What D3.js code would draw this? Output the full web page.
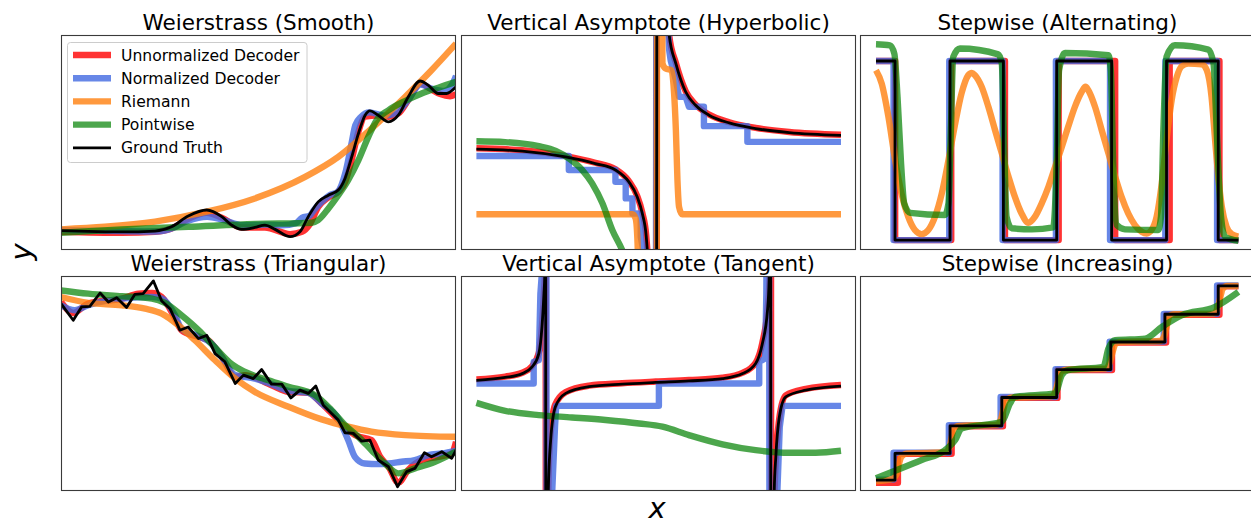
<!DOCTYPE html>
<html>
<head>
<meta charset="utf-8">
<script src="https://cdn.jsdelivr.net/npm/d3@7"></script>
<style>
  body { margin: 0; background: #fff; }
  text { font-family: "DejaVu Sans", sans-serif; fill: #000; }
</style>
</head>
<body>
<script>
// Panel titles (row by row)
var titles = [
  "Weierstrass (Smooth)", "Vertical Asymptote (Hyperbolic)", "Stepwise (Alternating)",
  "Weierstrass (Triangular)", "Vertical Asymptote (Tangent)", "Stepwise (Increasing)"
];

// legend names
var seriesNames = ["Unnormalized Decoder", "Normalized Decoder", "Riemann", "Pointwise", "Ground Truth"];

// ---- Weierstrass (Smooth) : [x, y] (0-100 units)
var smoothTruth = [[0,9.0],[6.9,8.7],[15.4,8.4],[23.8,8.8],[28,10.8],[32.2,15.8],[36.9,18.6],[40.7,15.5],[43.2,11.6],[45.7,9.6],[49.1,10.5],[51.6,11.6],[54.2,9.6],[58,6.2],[60.5,8.5],[62.6,15.5],[65.1,22.4],[67.7,25.5],[70.2,27.9],[71.9,33.3],[73.6,43.3],[75.3,54.2],[77,62.7],[78.2,64.7],[80.3,62.7],[82.9,59.6],[85.4,62.7],[87.9,71.2],[90.9,78.6],[93,76.6],[95.5,72.8],[97.6,72.8],[100,75.9]];
var smoothUnnorm = [[0,8.5],[15.4,8.0],[23.8,8.5],[28,10],[32.2,14.5],[36.9,17.3],[40.7,15],[45.7,10.5],[51.6,10.5],[58,7.4],[61,8.5],[63,12],[65.1,20],[67.7,24.5],[70.2,27],[72,32],[73.6,42],[75.3,55],[77,62],[80,62.5],[83,62],[85.4,63.5],[88,70],[91,77.5],[93.5,75],[96,72.5],[98.5,71.5],[100,72.5]];
var smoothNorm = [[0,9.3],[15,8.8],[24,8.6],[28,10],[32,13.5],[37,15.5],[41,14],[46,11.5],[52,11.8],[56,11.5],[59.5,12.5],[61,15],[63,16],[64,18.5],[66,22.5],[68,25.5],[70,27],[72,36],[73.6,50],[74.5,58],[76,62],[78,64],[82,62.5],[85,64],[88,70],[91,77],[94,75],[97,74],[99,77],[100,81]];
var smoothRiemann = [[0,9.6],[11.1,10.8],[23.8,13.2],[36.9,17.8],[49.1,24],[61.8,34],[70.2,43.3],[78.6,56.5],[87.1,71.2],[93.8,83.6],[100,96]];
var smoothPointwise = [[0,8],[15.4,9.6],[32.2,10.8],[49.1,12.1],[63.5,12.7],[65.1,13.9],[67.7,19.3],[70.2,25.5],[72.7,32.5],[75.3,41.8],[77.8,52.6],[79.9,60.4],[82.9,65],[87.1,69.3],[91.3,72.8],[95.5,75.5],[100,78.2]];

// ---- Vertical Asymptote (Hyperbolic)
var hyperTruth = [[3.9,46.9],[15.5,46],[26.5,43.3],[34,40.2],[39.1,37.2],[42.5,31.7],[44.6,24.8],[45.9,17],[46.9,6.2],[48,-40],[49.3,-300],[49.8,400],[51.4,150],[52.7,100],[54.4,86.7],[56.9,73.5],[59.4,67.3],[62.8,62.7],[67.9,59.1],[74.6,56.5],[83.1,54.6],[96.2,53.3]];
var hyperUnnorm = [[3.9,47.3],[15.5,46.4],[26.5,43.7],[34,40.6],[39.1,37.6],[42.5,32.1],[44.6,25.2],[45.9,17.4],[46.9,6.6],[48,-40],[49.3,-300],[49.8,400],[51.4,150],[52.7,100],[54.4,87],[56.9,73.8],[59.4,67.6],[62.8,63],[67.9,59.4],[74.6,56.8],[83.1,54.9],[96.2,53.6]];
var hyperNorm = [[3.9,43.7],[27.3,43.7],[27.3,37.2],[39.1,37.2],[39.1,31.7],[41.7,31.7],[41.7,24],[43.4,24],[43.4,17],[45.5,17],[45.5,6.2],[46.7,-6],[48.4,-40],[49.2,-300],[49.6,400],[51.2,150],[52.7,93],[53.1,88],[54.4,79],[55.2,71.2],[56.9,71.2],[57.7,66.6],[61.5,66.6],[61.5,57.6],[72.5,57.6],[72.5,50.3],[96.2,50.3]];
var hyperRiemann = [[3.9,16.6],[43.4,16.6],[44.2,14.7],[44.7,3.1],[45,-21.7],[49.3,-300],[49.9,400],[51,86.7],[51.8,84.4],[53.3,83.6],[53.9,74.3],[54.4,55.7],[54.8,32.5],[55.2,20.1],[56,16.6],[96.2,16.6]];
var hyperPointwise = [[3.9,50.6],[11.2,50.2],[19.7,48.3],[24,46.1],[27.3,42.6],[30.7,37.2],[33.2,31],[35.8,21.7],[38.3,9.3],[40.8,0],[43.4,-12.4],[45.9,-29]];

// ---- Stepwise (Alternating): step edges and the level after each edge
var altLevels = [87.9, 4.6, 87.9, 4.6, 87.9, 4.6, 87.9, 4.6, 4.6];
var altTruthEdges = [4.05, 8.86, 22.8, 36.3, 49.8, 63.7, 77.6, 90.7, 95.8];
var altUnnormEdges = [4.05, 8.9, 23.1, 36.7, 50.3, 64.6, 78.4, 91.0, 95.8];
var altNormEdges = [4.05, 8.5, 22.6, 36.1, 49.6, 63.3, 77.3, 90.4, 95.8];
var altRiemann = [[4.05,83.6],[5.5,77.4],[7.2,61.9],[8.9,41.8],[10.5,26.3],[12.2,15.5],[13.9,9.3],[15.6,7.4],[17.3,9.3],[19,15.5],[20.7,26.3],[22.4,41.8],[24.1,58.8],[25.7,72.8],[27.4,81.3],[28.3,82.4],[29.1,81.3],[30.8,75.9],[32.5,66.6],[34.2,55.7],[35.9,44.9],[37.6,34.1],[39.2,24.8],[40.9,17],[42.6,12.7],[44.3,15.5],[46,21.7],[47.7,29.4],[49.4,38.7],[51.1,48],[52.7,57.3],[54.4,66.6],[56.1,73.5],[57.1,75.9],[57.8,74.3],[59.5,66.6],[61.2,55.7],[62.9,44.9],[64.6,34.1],[66.2,24.8],[67.9,17],[69.6,11.6],[71.3,8.5],[72.6,7.7],[73.8,9.3],[75.1,15.5],[76.4,31],[77.6,51.1],[78.9,69.7],[80.2,80.5],[81.4,85.4],[83.1,86.7],[86.5,86.4],[87.8,83.6],[89,71.2],[89.9,51.1],[90.7,34.1],[91.6,20.1],[92.8,10.8],[94.1,7.4],[95.8,6.2]];
var altPointwise = [[4.05,95.7],[7.6,95.2],[8.7,91.3],[9.5,71.2],[10.4,40.2],[11.2,21.7],[12.7,17.3],[21.5,16.3],[22.4,21.7],[23,55.7],[23.6,89.8],[25.3,93.7],[35,91],[35.9,86.7],[36.5,48],[37.1,15.5],[38.4,10.1],[43.5,9.6],[48.9,10.5],[49.8,40.2],[50.4,83.6],[51.9,91.6],[62.9,90.6],[63.5,83.6],[64.1,40.2],[65,11.6],[67.1,9.6],[75.5,9.3],[76.2,15.5],[76.8,55.7],[77.6,89.8],[79.7,95.2],[88.2,93.2],[89.5,86.7],[90.3,55.7],[91.4,15.5],[92.4,6.2],[95.8,4.3]];

// ---- Weierstrass (Triangular)
var triTruth = [[0,87.2],[3.1,79.4],[5.2,85.6],[7.3,85.9],[9.9,92.1],[12,87.9],[14.1,89.9],[16.6,85.3],[18.7,91.5],[20.8,91.8],[23.4,97.7],[25.5,88.4],[27.6,84.8],[30.1,74.8],[32.2,76.3],[34.8,70.9],[36.9,72.4],[39,63.9],[41.5,60.1],[44.1,50],[46.2,53.9],[48.7,52.3],[50.8,56.5],[53.3,49.7],[55.9,49.7],[58.2,43.3],[60.5,46.9],[62.6,45.4],[64.5,48.8],[66.4,39.9],[68.5,36.1],[70.2,33],[71.9,27.1],[74,26.8],[76.1,23.2],[78.2,23.7],[80.3,14.4],[82.9,11.3],[85.2,2],[87.5,9],[89.6,10.5],[92,17.8],[93.8,15.9],[96.4,18.3],[98.9,15.2],[100,19]];
var triUnnorm = [[0,87.9],[3.1,82.8],[6.9,87.2],[15.4,89.5],[19.6,91.8],[23,92.1],[25.5,90.2],[28.9,80.2],[30.5,74.8],[34.8,71.7],[37.3,70.1],[40.7,62.4],[44.1,53.1],[46.6,53.9],[53.3,49.2],[57.6,46.1],[62.6,45.7],[66,40.7],[70.2,33],[74.4,26],[78.6,23.7],[80.8,15.9],[82.9,11.3],[85.4,3.9],[87.9,9.8],[91.3,14.4],[95.5,15.9],[98.9,17.5],[100,22.9]];
var triNorm = [[0,86.4],[3.5,84.1],[6.9,86.4],[15.4,89.5],[23,90.2],[25.5,89.5],[28.9,81.7],[30.5,75.5],[34.8,72],[38.1,68.6],[40.7,62.4],[44.1,53.9],[49.1,52.3],[53.3,49.7],[57.6,46.6],[62.6,45.7],[66,40.7],[70.2,33.7],[72.7,23.7],[74.4,15.9],[76.9,12.8],[80.3,12.5],[82.9,12.8],[86.2,13.6],[89.6,14.4],[93,16.7],[96.4,17.5],[100,18.7]];
var triRiemann = [[0,90.2],[6.9,87.5],[15.4,86.4],[21.3,84.8],[25.5,82.5],[29.7,77.1],[33.9,70.1],[39,60.8],[44.1,52.3],[49.1,46.1],[57.6,39.2],[66,33.3],[72.7,29.9],[78.6,27.6],[87.1,26],[100,25.2]];
var triPointwise = [[0,93.3],[6.9,91.8],[15.4,90.6],[23,89.5],[26.3,87.5],[30.5,81.7],[34.8,74.8],[39,66.7],[43.2,59],[46.6,55.4],[52.5,51.5],[57.6,48.5],[64.3,44.6],[68.5,37.6],[71.9,30.7],[75.3,25.2],[78.6,19],[82,12.8],[85.4,8.2],[89.6,10.5],[94.7,13.6],[100,18.3]];

// ---- Vertical Asymptote (Tangent)
var tanTruth = [[3.9,51.5],[11.2,52.8],[15.5,54.6],[18,57.7],[19.7,63.9],[20.5,76.3],[21,91.8],[21.2,100],[21.4,300],[21.5,-200],[22.1,0],[22.7,23.7],[23.9,39.2],[26.5,45.4],[32.4,48.5],[40.8,49.7],[49.3,50.5],[57.7,51.2],[66.2,52.3],[71.3,54.6],[74.6,59.3],[76.3,68.6],[77.6,84.1],[78,98],[78.3,300],[78.5,-200],[79.3,0],[79.7,15.9],[80.6,34.5],[82.2,43.8],[87.3,46.9],[96.2,48.8]];
var tanUnnorm = [[3.9,51.9],[11.2,53.2],[15.5,55],[18,58.1],[19.7,64.3],[20.5,76.7],[21,92.2],[21.2,100],[21.4,300],[21.5,-200],[22.1,0],[22.6,24.5],[23.8,40],[26.5,46],[32.4,49],[40.8,50.1],[49.3,50.9],[57.7,51.6],[66.2,52.7],[71.3,55],[74.6,59.7],[76.3,69],[77.6,84.5],[78.1,98],[78.4,300],[78.6,-200],[79.4,0],[79.8,17],[80.7,35.5],[82.2,44.5],[87.3,47.5],[96.2,49.3]];
var tanNorm = [[3.9,50],[18.4,50],[18.4,60.1],[19.7,60.8],[20.1,91.8],[20.7,107],[21.6,300],[21.7,-200],[23.1,0],[23.8,29.9],[24.1,39.6],[50.1,39.6],[50.1,50],[75.5,50],[75.5,60.1],[77,61.6],[77.3,91.8],[77.9,300],[78.2,-200],[80.1,0],[80.7,29.9],[81.4,39.6],[96.2,39.6]];
var tanPointwise = [[3.9,41],[11.2,37.3],[19.7,35.3],[28.1,34.2],[36.6,33],[45.1,31.4],[51,29.9],[57.7,26],[66.2,21.7],[74.6,19],[83.1,17.8],[89.8,17.8],[96.2,18.7]];

// ---- Stepwise (Increasing)
var incTruthEdges = [4.05, 8.86, 22.8, 35.9, 49.8, 63.5, 77.2, 90.7, 95.8];
var incTruthLevels = [5.1, 17.5, 30.3, 43.5, 56.5, 69.3, 82.2, 95.4, 95.4];
var incUnnormEdges = [4.05, 9.6, 23.2, 36.2, 50, 63.8, 77.5, 91.0, 95.8];
var incUnnormLevels = [3.8, 17.3, 30.1, 43.3, 56.3, 69.1, 82.0, 95.2, 95.2];
var incNormEdges = [4.05, 8.5, 22.5, 35.6, 49.5, 63.2, 76.9, 90.4, 95.8];
var incNormLevels = [5.3, 17.8, 30.6, 43.7, 56.7, 69.5, 82.4, 95.6, 95.6];
var incRiemann = [[4.05,4.5],[8,5.5],[9.3,8],[9.8,12],[10.5,16],[12,17.5],[21.5,18],[22.6,20],[23.2,25],[23.8,29],[25,30.3],[34.5,30.8],[35.6,33],[36.3,38],[37,42],[38.5,43.5],[48.5,44],[49.6,47],[50.3,52],[51,55.5],[52.5,56.5],[62.2,57],[63.3,60],[64,65],[64.7,68.5],[66,69.3],[76,69.8],[77,72],[77.7,77],[78.4,81.5],[79.5,82.2],[89.5,82.5],[90.5,85],[91.2,90],[91.8,94],[93,95.4],[95.8,95.4]];
var incPointwise = [[4.05,5.9],[15.6,14.4],[21.5,19],[24.1,23.7],[25.7,29.1],[35.9,32.2],[38,40.7],[39.2,43.8],[49.4,45.4],[51.1,53.9],[52.7,56.2],[61.6,57.7],[62.9,66.3],[64.6,70.1],[72.2,70.9],[76.4,76.3],[81.4,81.7],[89.9,85.6],[95.8,92.6]];

// zip step edges with levels
function steps(edges, levels) {
  return edges.map(function(e, i) { return [e, levels[i]]; });
}

// Define SVG area dimensions
var svgWidth = 1251;
var svgHeight = 528;

// panel layout
var colLeft = [61, 461, 860];
var rowTop = [35, 276];
var panelWidth = 395;
var panelHeight = 215;

var seriesStyle = [
  { color: "#ff0000", opacity: 0.8, width: 6.4 },
  { color: "#4169e1", opacity: 0.8, width: 6.4 },
  { color: "#ff7f0e", opacity: 0.8, width: 6.4 },
  { color: "#008000", opacity: 0.7, width: 6.4 },
  { color: "#000000", opacity: 1, width: 2.8 }
];

var smooth = d3.curveMonotoneX;
var lin = d3.curveLinear;
var stepA = d3.curveStepAfter;

// build the panels: series in legend order, with their curve type
var panels = [
  { title: titles[0], row: 0, col: 0,
    data: [smoothUnnorm, smoothNorm, smoothRiemann, smoothPointwise, smoothTruth],
    curves: [smooth, smooth, smooth, smooth, smooth] },
  { title: titles[1], row: 0, col: 1,
    data: [hyperUnnorm, hyperNorm, hyperRiemann, hyperPointwise, hyperTruth],
    curves: [smooth, lin, smooth, smooth, smooth] },
  { title: titles[2], row: 0, col: 2,
    data: [steps(altUnnormEdges, altLevels), steps(altNormEdges, altLevels), altRiemann, altPointwise, steps(altTruthEdges, altLevels)],
    curves: [stepA, stepA, smooth, smooth, stepA] },
  { title: titles[3], row: 1, col: 0,
    data: [triUnnorm, triNorm, triRiemann, triPointwise, triTruth],
    curves: [smooth, smooth, smooth, smooth, lin] },
  { title: titles[4], row: 1, col: 1,
    data: [tanUnnorm, tanNorm, [], tanPointwise, tanTruth],
    curves: [smooth, lin, smooth, smooth, smooth] },
  { title: titles[5], row: 1, col: 2,
    data: [steps(incUnnormEdges, incUnnormLevels), steps(incNormEdges, incNormLevels), incRiemann, incPointwise, steps(incTruthEdges, incTruthLevels)],
    curves: [stepA, stepA, smooth, smooth, stepA] }
];

var svg = d3.select("body")
  .append("svg")
  .attr("width", svgWidth)
  .attr("height", svgHeight);

panels.forEach(function(p, i) {
  var x0 = colLeft[p.col], y0 = rowTop[p.row];

  var xScale = d3.scaleLinear().domain([0, 100]).range([x0, x0 + panelWidth]);
  var yScale = d3.scaleLinear().domain([0, 100]).range([y0 + panelHeight, y0]);

  svg.append("clipPath")
    .attr("id", "clip" + i)
    .append("rect")
    .attr("x", x0).attr("y", y0)
    .attr("width", panelWidth).attr("height", panelHeight);

  var g = svg.append("g").attr("clip-path", "url(#clip" + i + ")");

  p.data.forEach(function(d, k) {
    if (!d.length) return;
    var drawLine = d3.line()
      .x(function(v) { return xScale(v[0]); })
      .y(function(v) { return yScale(v[1]); })
      .curve(p.curves[k]);
    g.append("path")
      .attr("d", drawLine(d))
      .attr("fill", "none")
      .attr("stroke", seriesStyle[k].color)
      .attr("stroke-opacity", seriesStyle[k].opacity)
      .attr("stroke-width", seriesStyle[k].width)
      .attr("stroke-linejoin", "round")
      .attr("stroke-linecap", "butt");
  });

  // frame
  svg.append("rect")
    .attr("x", x0 + 0.5).attr("y", y0 + 0.5)
    .attr("width", panelWidth - 1).attr("height", panelHeight - 1)
    .attr("fill", "none")
    .attr("stroke", "#3a3a3a")
    .attr("stroke-width", 1.1);

  svg.append("text")
    .attr("x", x0 + panelWidth / 2)
    .attr("y", y0 - 5)
    .attr("text-anchor", "middle")
    .style("font-size", "21.5px")
    .text(p.title);
});

// legend in first panel
var legend = svg.append("g");
legend.append("rect")
  .attr("x", 67.5).attr("y", 42.5)
  .attr("width", 239.5).attr("height", 120)
  .attr("rx", 3)
  .attr("fill", "#fff").attr("fill-opacity", 0.8)
  .attr("stroke", "#cccccc").attr("stroke-width", 1);

seriesNames.forEach(function(name, k) {
  var cy = 55 + k * 23.2;
  legend.append("line")
    .attr("x1", 73).attr("x2", 111)
    .attr("y1", cy).attr("y2", cy)
    .attr("stroke", seriesStyle[k].color)
    .attr("stroke-opacity", seriesStyle[k].opacity)
    .attr("stroke-width", seriesStyle[k].width);
  legend.append("text")
    .attr("x", 121).attr("y", cy + 5.5)
    .style("font-size", "15.6px")
    .text(name);
});

// axis labels
svg.append("text")
  .attr("transform", "translate(31,252) rotate(-90)")
  .attr("text-anchor", "middle")
  .style("font-size", "29px")
  .style("font-style", "italic")
  .text("y");

svg.append("text")
  .attr("x", 657).attr("y", 518)
  .attr("text-anchor", "middle")
  .style("font-size", "29px")
  .style("font-style", "italic")
  .text("x");
</script>
</body>
</html>
